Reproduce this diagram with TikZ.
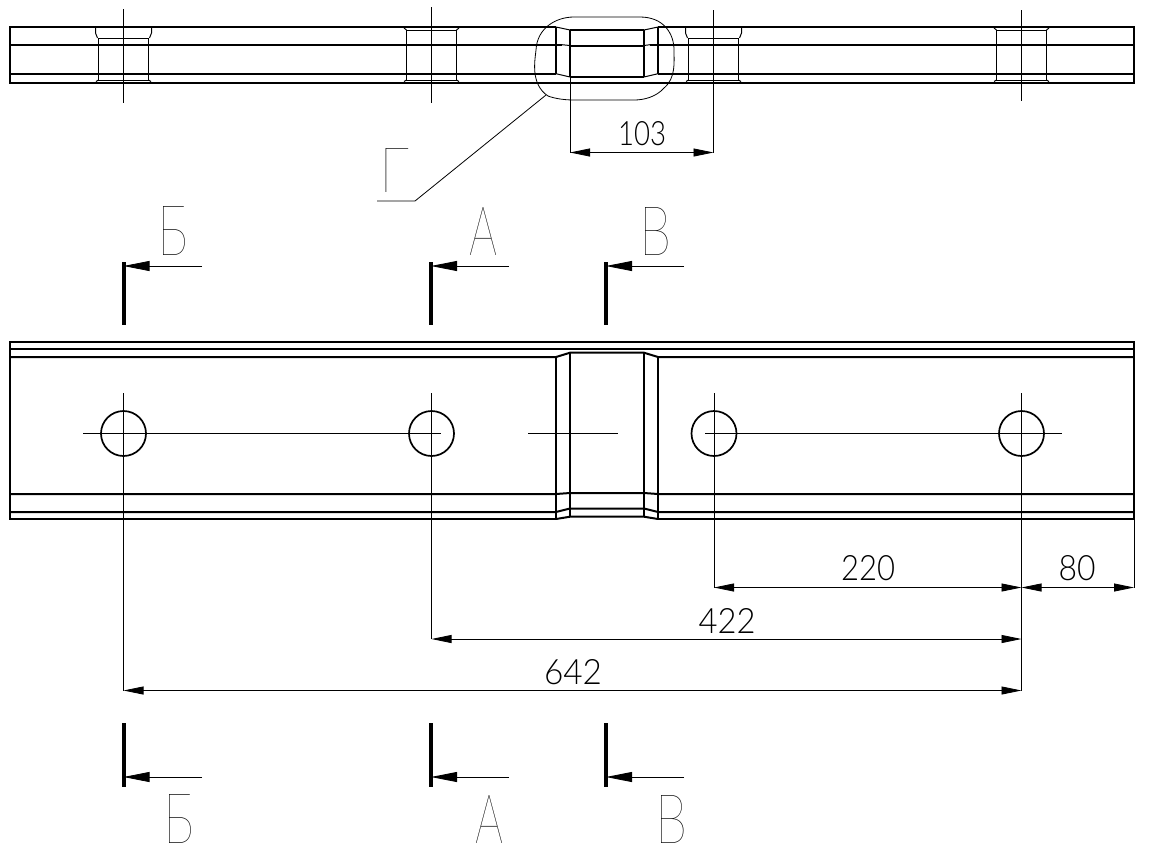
\documentclass[tikz,border=0pt]{standalone}
\usepackage{fontspec}
\usepackage{graphicx}
\setmainfont{Lato Thin}
\newfontfamily\digitfont{Lato Light}
\usetikzlibrary{arrows.meta}
\tikzset{
  x=1pt,y=-1pt,
  thickline/.style={line width=2pt},
  thinline/.style={line width=1pt},
  finline/.style={line width=0.8pt},
  secbar/.style={line width=4pt},
  dim/.style={line width=0.8pt,{Triangle[length=20pt,width=8pt]}-{Triangle[length=20pt,width=8pt]}},
  secarrow/.style={line width=0.8pt,-{Triangle[length=26pt,width=10pt]}},
  lab/.style={inner sep=0pt,outer sep=0pt,anchor=center}
}
\newcommand{\cadtext}[3]{\resizebox{#1pt}{#2pt}{#3}}
\begin{document}
\begin{tikzpicture}
\useasboundingbox (0,0) rectangle (1150,863);
% ---- top view
\draw[thickline] (556,27) -- (10,27) -- (10,82.5) -- (1134,82.5) -- (1134,27) -- (658,27);
\draw[thickline] (10,44.7) -- (562,44.7) (570,45.5) -- (644,45.5) (650,44.7) -- (1134,44.7);
\draw[thinline] (562,44.7) -- (570,45.5) (644,45.5) -- (650,44.7);
\draw[thickline] (10,73.7) -- (556,73.7) (658,73.7) -- (1134,73.7);
\draw[thickline] (556,27) -- (556,73.7) (570,30) -- (570,77) (644,30) -- (644,77) (658,27) -- (658,73.7);
\draw[thickline] (570,30) -- (644,30) (570,77) -- (644,77);
\draw[thinline] (556,27) -- (570,30) (644,30) -- (658,27) (556,73.7) -- (570,77) (644,77) -- (658,73.7);
% bolts
\foreach \c in {123.5,713.5}{
  \draw[thinline] (\c-25,38.5) rectangle (\c+25,80.5);
  \draw[thinline] (\c-28,27) -- (\c-28,33) -- (\c-26,38) (\c+28,27) -- (\c+28,33) -- (\c+26,38);
  \draw[thinline] (\c-25,80) -- (\c-27.5,81.5) (\c+25,80) -- (\c+27.5,81.5);
}
\foreach \c in {431.5,1021.5}{
  \draw[thinline] (\c-25,30) rectangle (\c+25,80.5);
  \draw[thinline] (\c-25,30) -- (\c-27.5,28) (\c+25,30) -- (\c+27.5,28);
  \draw[thinline] (\c-25,80) -- (\c-27.5,81.5) (\c+25,80) -- (\c+27.5,81.5);
}
\draw[finline] (123.5,9) -- (123.5,103) (431.5,7) -- (431.5,103) (1021.5,10) -- (1021.5,101);
% callout
\draw[finline] (548,96) .. controls (530,84) and (535,60) .. (536,50)
  .. controls (537,28) and (556,17) .. (574,17) -- (640,17)
  .. controls (664,17) and (674,34) .. (674,50)
  .. controls (674,62) and (676,78) .. (664,88)
  .. controls (656,97) and (644,100) .. (634,100) -- (574,100) .. controls (566,100) and (556,99) .. cycle;
\coordinate (leadA) at (546,95);
\coordinate (leadB) at (415,201);
\coordinate (leadC) at (377,201);
\draw[finline] (leadA) -- (leadB) -- (leadC);
\node[lab] (gamma) at (394,170) {\cadtext{30}{44}{Г}};
% dim 103
\coordinate (d103a) at (570,152.5);
\coordinate (d103b) at (713.5,152.5);
\draw[finline] (570,77) -- (d103a) (713.5,10) -- (d103b);
\draw[dim] (d103a) -- (d103b);
\node[lab] (t103) at (642,134) {\cadtext{48}{24}{\digitfont 103}};
% ---- section marks
\foreach \x/\e/\nm in {123.5/202/b,431/509/a,606/684/v}{
  \draw[secbar] (\x,262) -- (\x,325);
  \draw[secbar] (\x,723) -- (\x,787);
  \coordinate (t\nm) at (\x,266);
  \coordinate (u\nm) at (\x,777);
  \draw[secarrow] (\e,266) -- (t\nm);
  \draw[secarrow] (\e,777) -- (u\nm);
}
\node[lab] (lb1) at (172.5,230.5) {\cadtext{31}{49}{Б}};
\node[lab] (la1) at (483.5,231) {\cadtext{28}{48}{А}};
\node[lab] (lv1) at (655,231) {\cadtext{32}{48}{В}};
\node[lab] (lb2) at (178.5,818.5) {\cadtext{31}{49}{Б}};
\node[lab] (la2) at (489.5,819) {\cadtext{28}{48}{А}};
\node[lab] (lv2) at (671.5,819) {\cadtext{32}{48}{В}};
% ---- main view
\draw[thickline] (556,519) -- (10,519) -- (10,342) -- (1134,342) -- (1134,519) -- (658,519);
\draw[thickline] (10,349) -- (1134,349);
\draw[thickline] (10,357) -- (556,357) -- (570,352.7) -- (644,352.7) -- (658,357) -- (1134,357);
\draw[thickline] (10,494) -- (556,494) -- (570,493) -- (644,493) -- (658,494) -- (1134,494);
\draw[thickline] (10,512) -- (556,512) -- (570,508.5) -- (644,508.5) -- (658,512) -- (1134,512);
\draw[thickline] (556,519) -- (570,516.7) -- (644,516.7) -- (658,519);
\draw[thickline] (556,357) -- (556,519) (570,352.7) -- (570,516.7) (644,352.7) -- (644,516.7) (658,357) -- (658,519);
\foreach \c/\n in {123.5/h1,431.5/h2,714/h3,1021.5/h4}{
  \node[circle,draw,line width=1.7pt,minimum size=45pt,inner sep=0pt] (\n) at (\c,433.5) {};
}
\draw[finline] (83,433.5) -- (441,433.5) (528,433.5) -- (618,433.5) (705,433.5) -- (1062,433.5);
% dims
\coordinate (e1) at (123.5,690.5);
\coordinate (e2) at (431.5,639);
\coordinate (e3) at (714,587.5);
\coordinate (e4) at (1021.5,690.5);
\coordinate (e5) at (1134,587.5);
\coordinate (e4a) at (1021.5,587.5);
\coordinate (e4b) at (1021.5,639);
\draw[finline] (123.5,393) -- (e1) (431.5,393) -- (e2) (714,393) -- (e3) (1021.5,393) -- (e4) (1134,519) -- (e5);
\draw[dim] (e3) -- (e4a);
\draw[dim] (e4a) -- (e5);
\draw[dim] (e2) -- (e4b);
\draw[dim] (e1) -- (e4);
\node[lab] (t220) at (868,568.5) {\cadtext{54}{25}{\digitfont 220}};
\node[lab] (t80) at (1077,568) {\cadtext{37}{25}{\digitfont 80}};
\node[lab] (t422) at (727,620.5) {\cadtext{57}{25}{\digitfont 422}};
\node[lab] (t642) at (573,672.5) {\cadtext{58}{25}{\digitfont 642}};
\end{tikzpicture}
\end{document}
